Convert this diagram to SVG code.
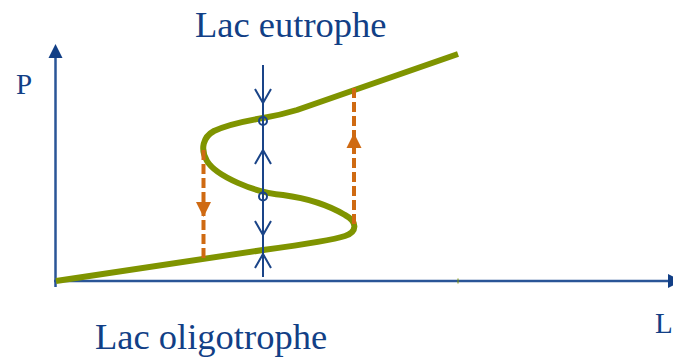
<svg xmlns="http://www.w3.org/2000/svg" width="673" height="358" viewBox="0 0 673 358">
<style>
.lbl{font-family:"Liberation Serif","Times New Roman",serif;fill:#123f86;}
.axis{stroke:#2a5597;stroke-width:2.5;fill:none;}
.blue{stroke:#1a4488;stroke-width:2;fill:none;}
.orange{stroke:#cf6a12;stroke-width:4;stroke-dasharray:10 4;fill:none;}
</style>
<rect width="673" height="358" fill="#ffffff"/>
<g id="axes">
<line class="axis" x1="55.5" y1="56" x2="55.5" y2="287"/>
<polygon points="55.5,44 48.5,58 62.5,58" fill="#123f86"/>
<line class="axis" x1="54" y1="281" x2="670" y2="281"/>
<polygon points="668,274 682,281 668,288" fill="#123f86"/>
<line x1="458" y1="278.5" x2="458" y2="283.5" stroke="#7f9400" stroke-width="1"/>
</g>
<g id="curve">
<path d="M56,281 L263,250 C300,245 330,241 345,236 C357,232 358,222 345,215 C325,203 305,198 283,195 C255,193 216,176 207,161 C200,149 203,137 214,131 C229,124 245,121 263,118 C275,116 287,113 297,110 L458,54" fill="none" stroke="#7f9400" stroke-width="6" stroke-linejoin="round"/>
</g>
<g id="stability">
<line class="blue" x1="263" y1="65" x2="263" y2="277"/>
<polyline class="blue" points="255,89 263,103 271,89"/>
<polyline class="blue" points="255,164 263,150 271,164"/>
<polyline class="blue" points="255,221 263,235 271,221"/>
<polyline class="blue" points="255,268 263,254 271,268"/>
<circle class="blue" cx="263" cy="121" r="4"/>
<circle class="blue" cx="263" cy="196.5" r="4"/>
</g>
<g id="connectors">
<line class="orange" x1="203.5" y1="150" x2="203.5" y2="262"/>
<polygon points="196,202 211,202 203.5,217" fill="#cf6a12"/>
<line class="orange" x1="354" y1="88" x2="354" y2="227"/>
<polygon points="346.5,148 361.5,148 354,133" fill="#cf6a12"/>
</g>
<g id="labels">
<text class="lbl" x="195" y="37" font-size="36.5">Lac eutrophe</text>
<text class="lbl" x="95" y="349" font-size="36.5">Lac oligotrophe</text>
<text class="lbl" x="16" y="94" font-size="29">P</text>
<text class="lbl" x="655" y="333" font-size="29">L</text>
</g>
</svg>
